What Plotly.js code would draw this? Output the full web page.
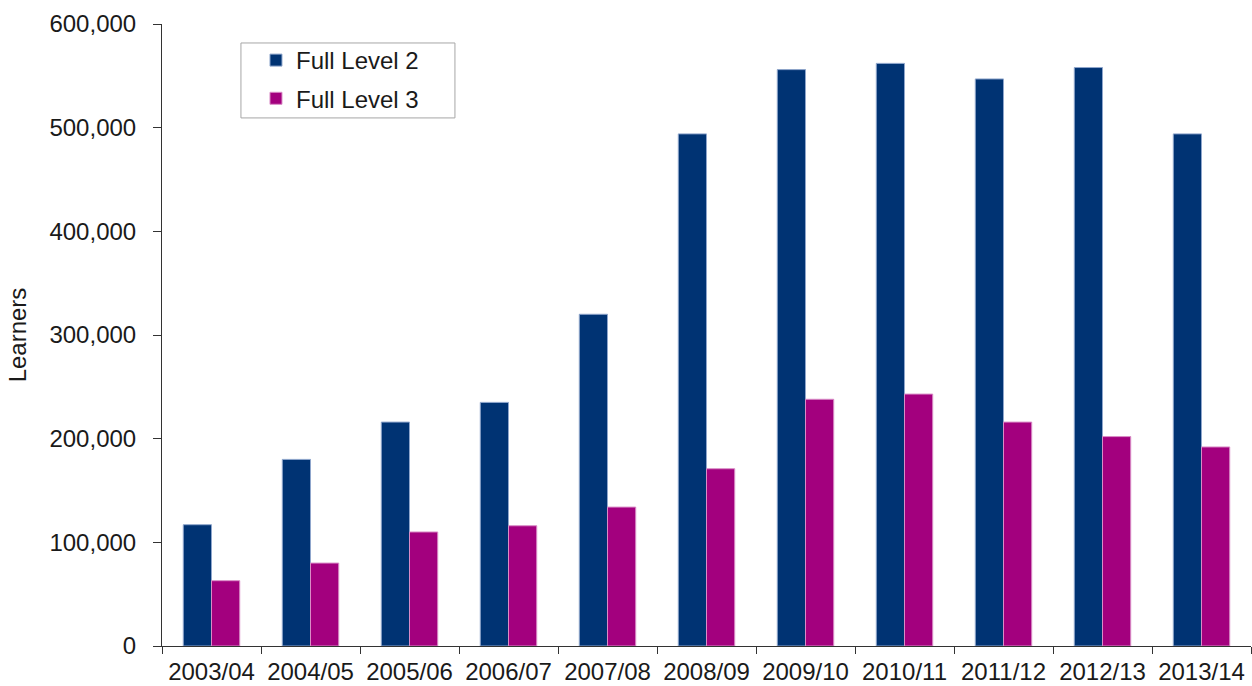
<!DOCTYPE html>
<html>
<head>
<meta charset="utf-8">
<script src="https://cdn.plot.ly/plotly-3.0.1.min.js"></script>
<style>html,body{margin:0;padding:0;background:#fff;}#chart{width:1252px;height:686px;}</style>
</head>
<body>
<div id="chart"></div>
<script>
const years = ["2003/04","2004/05","2005/06","2006/07","2007/08","2008/09","2009/10","2010/11","2011/12","2012/13","2013/14"];
const fullLevel2 = [117000,180000,216000,235000,320000,494000,556000,562000,547000,558000,494000];
const fullLevel3 = [63000,80000,110000,116000,134000,171000,238000,243000,216000,202000,192000];
const yTicks = [0,100000,200000,300000,400000,500000,600000];
const yTickText = ["0","100,000","200,000","300,000","400,000","500,000","600,000"];

const fontFam = '"Liberation Sans", Arial, sans-serif';
const fs = 24;
const traces = [
  {type:'bar', name:'Full Level 2', x:years, y:fullLevel2, legendgroup:'a',
   marker:{color:'#003373', line:{color:'#8fa6cc', width:1}}},
  {type:'bar', name:'Full Level 3', x:years, y:fullLevel3, legendgroup:'b',
   marker:{color:'#A3007E', line:{color:'#d98cc6', width:1}}}
];
const layout = {
  width:1252, height:686,
  margin:{l:162, r:1, t:24, b:40, pad:0},
  paper_bgcolor:'#fff', plot_bgcolor:'#fff',
  font:{family:fontFam, size:fs, color:'#1a1a1a'},
  barmode:'group', bargap:0.43, bargroupgap:0,
  showlegend:true,
  legend:{x:0.0863, y:0.9775, xanchor:'left', yanchor:'top',
    borderwidth:0, bgcolor:'rgba(0,0,0,0)',
    font:{family:fontFam, size:fs, color:'#1a1a1a'},
    traceorder:'grouped', tracegroupgap:4, itemwidth:30},
  shapes:[{type:'rect', xref:'paper', yref:'paper', x0:0.0725, x1:0.269, y0:0.849, y1:0.9695,
    line:{color:'#a6a6a6', width:1}, fillcolor:'rgba(0,0,0,0)', layer:'above'}],
  xaxis:{type:'category', showline:true, linecolor:'#333', linewidth:1,
    ticks:'outside', tickson:'boundaries', ticklen:7, tickcolor:'#333',
    showgrid:false, ticklabelstandoff:4, tickfont:{family:fontFam, size:fs, color:'#1a1a1a'}},
  yaxis:{range:[0,600000], tickvals:yTicks, ticktext:yTickText,
    showline:true, linecolor:'#333', linewidth:1, ticks:'outside', ticklen:8,
    tickcolor:'#333', showgrid:false, zeroline:false, ticklabelstandoff:12,
    tickfont:{family:fontFam, size:fs, color:'#1a1a1a'},
    title:{text:'Learners', font:{family:fontFam, size:fs, color:'#1a1a1a'}, standoff:16}}
};
Plotly.newPlot('chart', traces, layout, {displayModeBar:false, staticPlot:true});
</script>
</body>
</html>
